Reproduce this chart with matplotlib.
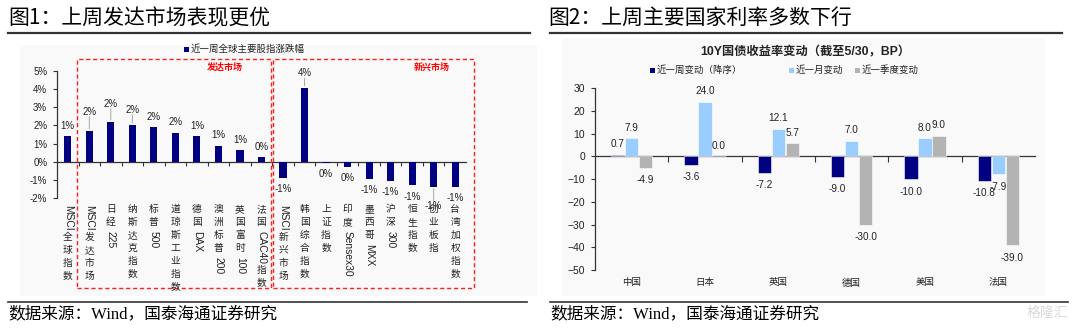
import re
import numpy as np
import matplotlib
matplotlib.use("Agg")
import matplotlib.pyplot as plt
from matplotlib.patches import Rectangle
from matplotlib.lines import Line2D

# ---- data ----
idx_names = ['MSCI全球指数', 'MSCI发达市场', '日经225', '纳斯达克指数', '标普500',
             '道琼斯工业指数', '德国DAX', '澳洲标普200', '英国富时100', '法国CAC40指数',
             'MSCI新兴市场', '韩国综合指数', '上证指数', '印度Sensex30', '墨西哥MXX',
             '沪深300', '恒生指数', '创业板指', '台湾加权指数']
idx_chg = [1.41, 1.69, 2.18, 2.01, 1.89, 1.61, 1.41, 0.88, 0.64, 0.24,
           -0.88, 4.07, -0.05, -0.29, -0.93, -1.06, -1.30, -1.37, -1.37]

countries = ['中国', '日本', '英国', '德国', '美国', '法国']
chg_week = [0.7, -3.6, -7.2, -9.0, -10.0, -10.8]
chg_month = [7.9, 24.0, 12.1, 7.0, 8.0, -7.9]
chg_quarter = [-4.9, 0.0, 5.7, -30.0, 9.0, -39.0]

# ---- helpers ----
W, H = 1080, 328
fig = plt.figure(figsize=(W / 100, H / 100), dpi=100)
fig.patch.set_facecolor('white')
plt.rcParams['font.family'] = ['Liberation Sans', 'Noto Sans CJK SC']
CJK = ['Noto Sans CJK SC', 'DejaVu Sans']
SERIF = ['Liberation Serif', 'Noto Sans CJK SC']
NAVY = '#000080'
renderer = fig.canvas.get_renderer()


def fx(px):
    return px / W


def fy(py):
    return 1 - py / H


def hline(x0, x1, y, lw=1.5, color='#333333'):
    fig.add_artist(Line2D([fx(x0), fx(x1)], [fy(y), fy(y)], color=color, lw=lw))


def px_to_pt(px):
    return px * 72 / 100


# faint chart backgrounds
fig.add_artist(Rectangle((fx(20), fy(296)), fx(537) - fx(20), (296 - 45) / H,
                         facecolor='#f9f9f9', edgecolor='none', zorder=0))
fig.add_artist(Rectangle((fx(562), fy(296)), fx(1045) - fx(562), (296 - 38) / H,
                         facecolor='#f9f9f9', edgecolor='none', zorder=0))

# ---- titles and footers ----
fig.text(fx(8), fy(18), '图1：上周发达市场表现更优', fontsize=15, va='center', family=CJK,
         weight='medium')
fig.text(fx(548), fy(18), '图2：上周主要国家利率多数下行', fontsize=15, va='center', family=CJK,
         weight='medium')
hline(8, 530, 33, lw=1.6)
hline(550, 1062, 33, lw=1.6)
hline(8, 527, 302, lw=1.2)
hline(550, 1068, 302, lw=1.2)
fig.text(fx(8), fy(314), '数据来源：Wind，国泰海通证券研究', fontsize=12, va='center', family=SERIF)
fig.text(fx(550), fy(314), '数据来源：Wind，国泰海通证券研究', fontsize=12, va='center', family=SERIF)
fig.text(fx(1068), fy(313), '格隆汇', fontsize=10, va='center', ha='right', color='#d8d8d8', family=CJK)

# ---- left chart ----
ax1 = fig.add_axes([fx(57), fy(198), fx(466) - fx(57), (198 - 71) / H])
ax1.patch.set_alpha(0)
x1 = np.arange(len(idx_names))
ax1.bar(x1, idx_chg, width=0.33, color=NAVY, zorder=3)
ax1.set_xlim(-0.5, len(idx_names) - 0.5)
ax1.set_ylim(-2, 5)
ax1.set_yticks(range(-2, 6))
ax1.set_yticklabels([f'{v}%' for v in range(-2, 6)])
ax1.set_xticks(np.arange(0.5, len(idx_names) - 1, 1))
for s in ['top', 'right']:
    ax1.spines[s].set_visible(False)
ax1.spines['bottom'].set_position(('data', 0))
for s in ['bottom', 'left']:
    ax1.spines[s].set_color('#333333')
    ax1.spines[s].set_linewidth(0.9)
ax1.tick_params(axis='x', direction='out', length=3, width=0.8, color='#333333', labelbottom=False)
ax1.tick_params(axis='y', direction='out', length=3, width=0.8, color='#333333',
                labelsize=7, pad=4, labelcolor='#222222')

# extra lift (px) for labels pulled away with a leader line
leader_extra = {1: 9, 2: 8, 3: 5, 11: 4, 17: 8}
for i, v in enumerate(idx_chg):
    txt = f'{int(round(v))}%'
    extra = leader_extra.get(i, 0)
    sgn = 1 if v >= 0 else -1
    off = sgn * (10.5 + extra) if v >= 0 else sgn * (11.5 + extra)
    ax1.annotate(txt, (i, v), xytext=(0, px_to_pt(off)), textcoords='offset points',
                 ha='center', va='center', fontsize=7, color='#222222')
    if extra >= 4:
        ax1.annotate('', (i, v), xytext=(0, px_to_pt(off - sgn * 5)),
                     textcoords='offset points',
                     arrowprops=dict(arrowstyle='-', color='#999999', lw=0.6,
                                     shrinkA=0, shrinkB=1.5))


def vlabel(ax, xd, s, ytop, cjk_step=13.0):
    xp = ax.transData.transform((xd, 0))[0]
    y = ytop
    for run in re.findall(r'[A-Za-z0-9]+|[^A-Za-z0-9]', s):
        if run.isascii():
            t = fig.text(fx(xp), fy(y), run, rotation=-90, ha='center', va='top',
                         fontsize=7.4, family='Liberation Sans', color='#222222')
            y += t.get_window_extent(renderer).height + 2
        else:
            fig.text(fx(xp), fy(y - 1), run, ha='center', va='top', fontsize=7,
                     family=CJK, color='#222222')
            y += cjk_step


for i, name in enumerate(idx_names):
    vlabel(ax1, i, name, 205)

# legend and market boxes
fig.add_artist(Rectangle((fx(184), fy(52)), 5 / W, 5 / H, facecolor=NAVY, edgecolor='none'))
fig.text(fx(191), fy(49.5), '近一周全球主要股指涨跌幅', fontsize=6.8, va='center', family=CJK,
         color='#222222')
for x0, x1_ in [(77, 271), (273, 474)]:
    fig.add_artist(Rectangle((fx(x0), fy(288)), fx(x1_) - fx(x0), (288 - 59) / H,
                             facecolor='none', edgecolor='#ff2020', lw=1.0, ls=(0, (3, 2))))
fig.text(fx(225), fy(67), '发达市场', fontsize=6.5, weight='bold', color='#ff0000',
         ha='center', va='center', family=CJK)
fig.text(fx(432), fy(67), '新兴市场', fontsize=6.5, weight='bold', color='#ff0000',
         ha='center', va='center', family=CJK)

# ---- right chart ----
ax2 = fig.add_axes([fx(595), fy(270), fx(1035) - fx(595), (270 - 88.3) / H])
ax2.patch.set_alpha(0)
x2 = np.arange(len(countries))
series = [(chg_week, NAVY, '近一周变动（降序）'),
          (chg_month, '#99ccff', '近一月变动'),
          (chg_quarter, '#b3b3b3', '近一季度变动')]
for k, (vals, col, lab) in enumerate(series):
    pos = x2 + (k - 1) * 0.19
    ax2.bar(pos, vals, width=0.18, color=col, edgecolor='white', lw=0.4, zorder=3)
    for p, v in zip(pos, vals):
        off = 10.7 if v >= 0 else -12.5
        ax2.annotate(f'{v:.1f}', (p, v), xytext=(0, px_to_pt(off)), textcoords='offset points',
                     ha='center', va='center', fontsize=7.2, color='#222222', zorder=5)
ax2.set_xlim(-0.5, len(countries) - 0.5)
ax2.set_ylim(-50, 30)
ax2.set_yticks(range(-50, 31, 10))
ax2.set_xticks(np.arange(0.5, len(countries) - 1, 1))
for s in ['top', 'right']:
    ax2.spines[s].set_visible(False)
ax2.spines['bottom'].set_position(('data', 0))
for s in ['bottom', 'left']:
    ax2.spines[s].set_color('#333333')
    ax2.spines[s].set_linewidth(0.9)
ax2.tick_params(axis='x', direction='out', length=4, width=0.8, color='#333333', labelbottom=False)
ax2.tick_params(axis='y', direction='out', length=3, width=0.8, color='#333333',
                labelsize=7.5, pad=4, labelcolor='#222222')
for i, c in enumerate(countries):
    xp = ax2.transData.transform((i, 0))[0]
    fig.text(fx(xp), fy(283), c, ha='center', va='center', fontsize=6.8, family=CJK,
             color='#222222')

fig.text(fx(805), fy(52), '10Y国债收益率变动（截至5/30，BP）', fontsize=8.8, weight='bold',
         ha='center', va='center', color='#222222')
for (vals, col, lab), lx in zip(series, [650, 789, 855]):
    fig.add_artist(Rectangle((fx(lx), fy(72.5)), 5 / W, 5 / H, facecolor=col, edgecolor='none'))
    fig.text(fx(lx + 7), fy(70), lab, fontsize=6.8, va='center', family=CJK, color='#222222')

fig.savefig('out.png', dpi=100, facecolor='white')
